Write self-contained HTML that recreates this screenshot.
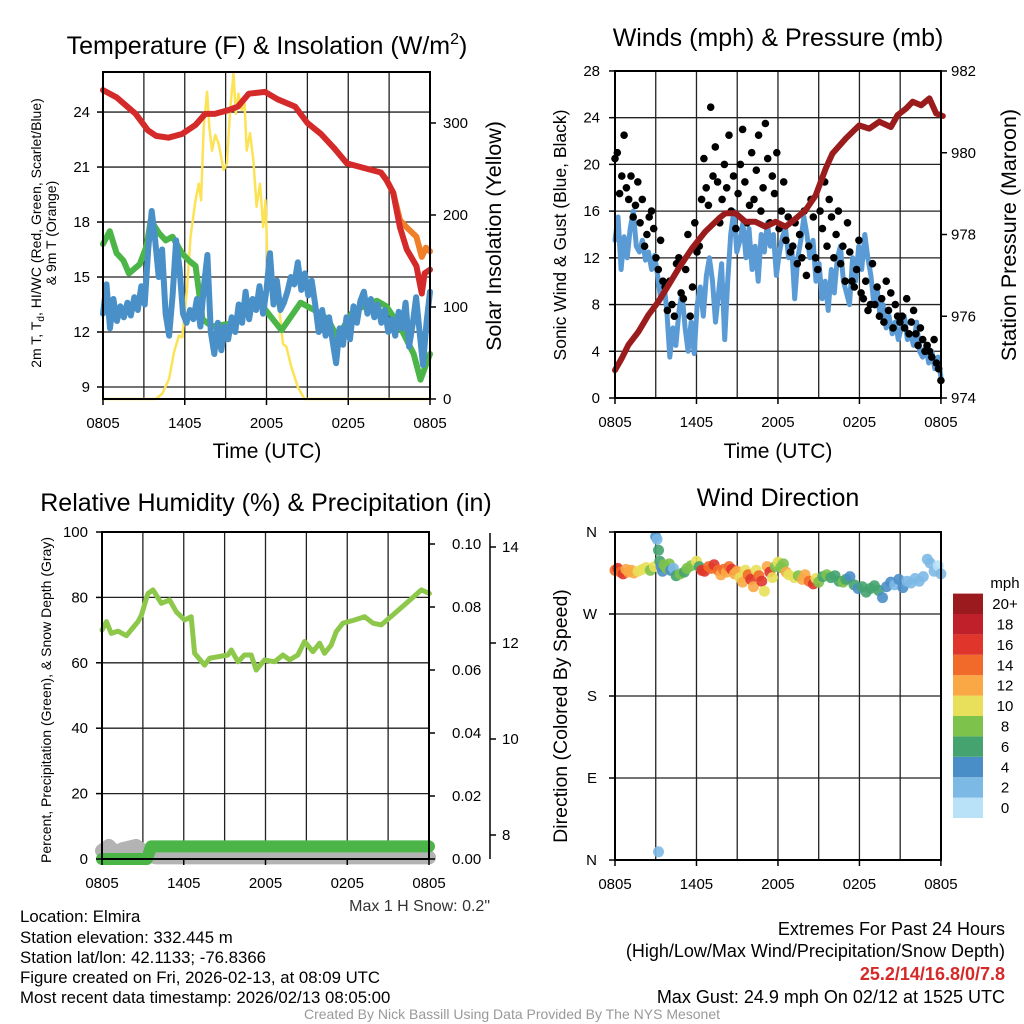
<!DOCTYPE html>
<html><head><meta charset="utf-8"><style>
html,body{margin:0;padding:0;background:#fff;}
svg{display:block;font-family:"Liberation Sans",Arial,sans-serif;}
</style></head><body>
<svg id="c" width="1024" height="1024" viewBox="0 0 1024 1024" xmlns="http://www.w3.org/2000/svg">
<rect width="1024" height="1024" fill="#fff"/>
<g id="bg"></g>
<g id="marks"></g>
<g id="fg"></g>
<!-- titles -->
<text x="267" y="54" font-size="25" text-anchor="middle">Temperature (F) &amp; Insolation (W/m<tspan font-size="16" dy="-10">2</tspan><tspan dy="10">)</tspan></text>
<text x="778" y="46" font-size="25" text-anchor="middle">Winds (mph) &amp; Pressure (mb)</text>
<text x="266" y="511" font-size="25" text-anchor="middle">Relative Humidity (%) &amp; Precipitation (in)</text>
<text x="778" y="506" font-size="25" text-anchor="middle">Wind Direction</text>
<text x="267" y="458" font-size="21" text-anchor="middle">Time (UTC)</text>
<text x="778" y="458" font-size="21" text-anchor="middle">Time (UTC)</text>
<text transform="translate(41,233) rotate(-90)" font-size="14" text-anchor="middle">2m T, T<tspan font-size="10" dy="3">d</tspan><tspan dy="-3">, HI/WC (Red, Green, Scarlet/Blue)</tspan></text>
<text transform="translate(56,233) rotate(-90)" font-size="14" text-anchor="middle">&amp; 9m T (Orange)</text>
<text transform="translate(501,236) rotate(-90)" font-size="21.5" text-anchor="middle">Solar Insolation (Yellow)</text>
<text transform="translate(566,235) rotate(-90)" font-size="17.5" text-anchor="middle">Sonic Wind &amp; Gust (Blue, Black)</text>
<text transform="translate(1016,235) rotate(-90)" font-size="21.5" text-anchor="middle">Station Pressure (Maroon)</text>
<text transform="translate(51,700) rotate(-90)" font-size="14" text-anchor="middle">Percent, Precipitation (Green), &amp; Snow Depth (Gray)</text>
<text transform="translate(567,716) rotate(-90)" font-size="19.5" text-anchor="middle">Direction (Colored By Speed)</text>
<text x="490" y="911" font-size="16" text-anchor="end" fill="#333">Max 1 H Snow: 0.2"</text>
<g font-size="16.8">
<text x="20" y="922">Location: Elmira</text>
<text x="20" y="943">Station elevation: 332.445 m</text>
<text x="20" y="963">Station lat/lon: 42.1133; -76.8366</text>
<text x="20" y="983">Figure created on Fri, 2026-02-13, at 08:09 UTC</text>
<text x="20" y="1003">Most recent data timestamp: 2026/02/13 08:05:00</text>
</g>
<g font-size="18" text-anchor="end">
<text x="1005" y="935">Extremes For Past 24 Hours</text>
<text x="1005" y="957">(High/Low/Max Wind/Precipitation/Snow Depth)</text>
<text x="1005" y="980" fill="#d42a2a" font-weight="bold">25.2/14/16.8/0/7.8</text>
<text x="1005" y="1003">Max Gust: 24.9 mph On 02/12 at 1525 UTC</text>
</g>
<text x="512" y="1019" font-size="14" fill="#999" text-anchor="middle">Created By Nick Bassill Using Data Provided By The NYS Mesonet</text>
</svg>
<script>
// ---------- DATA ----------
const xTickLabels = ["0805","1405","2005","0205","0805"];
const xTickHours = [0,6,12,18,24];
const tempTicks = [9,12,15,18,21,24];
const solarTicks = [0,100,200,300];
const windTicks = [0,4,8,12,16,20,24,28];
const presTicks = [974,976,978,980,982];
const rhTicks = [0,20,40,60,80,100];
const precipTicks = [0,0.02,0.04,0.06,0.08,0.10];
const outerTicks = [8,10,12,14];
const dirLabels = ["N","E","S","W","N"];
const dirTicks = [0,90,180,270,360];
const speedBins = ["0","2","4","6","8","10","12","14","16","18","20+"];

const tempHours = [0,1,2.4,3.3,3.9,4.8,5.8,6.8,7.5,8.2,9.2,9.9,10.7,11.9,12.8,14.1,15,16,17,17.9,19.4,20.4,20.8,21.3,21.8,22.3,23,23.4,23.6,24];
const tempValues = [25.2,24.8,23.9,23.0,22.7,22.6,22.8,23.3,23.9,23.9,24.1,24.3,25.0,25.1,24.7,24.3,23.4,22.8,22.0,21.2,20.9,20.7,20.3,19.6,17.7,16.5,15.6,14.1,15.2,15.4];
const temp9Hours = [20.4,20.8,21.3,21.8,22.3,23,23.4,23.7,24];
const temp9Values = [20.7,20.3,19.6,18.1,17.7,17.2,16.1,16.6,16.4];
const dewHours = [0,0.5,1,1.5,1.9,2.7,3.2,3.5,4.1,4.6,5.1,5.8,6.3,6.8,7.3,8,9.7,11.4,13.1,14.5,15.5,16.5,17.2,18.4,19.2,20.1,20.8,21.8,22.8,23.3,24];
const dewValues = [16.8,17.5,16.3,15.9,15.2,15.7,16.7,18.1,17.4,17.0,17.2,16.3,15.9,15.6,12.7,12.3,12.5,13.7,12.1,13.6,13.2,12.7,11.7,13.2,13.4,13.7,13.4,12.3,10.8,9.4,10.8];
const chillValues = [13.0,14.6,12.2,13.8,12.6,13.4,12.8,13.6,12.9,13.9,13.2,14.5,13.5,16.5,18.6,17.0,15.0,16.5,13.0,11.8,14.0,17.0,15.5,13.0,12.5,13.2,12.7,13.8,12.3,14.5,16.2,12.0,10.8,12.5,11.0,12.3,11.6,12.8,12.0,13.5,12.5,14.2,12.7,13.8,13.2,14.5,13.0,14.3,16.3,13.5,14.8,13.2,13.6,14.2,15.0,14.6,15.8,14.3,15.2,14.0,14.8,13.5,12.0,13.2,11.8,12.8,11.5,10.3,12.2,11.3,12.8,11.6,13.4,12.5,13.7,14.2,13.0,13.8,12.8,13.5,12.5,13.2,12.0,12.7,11.8,13.1,12.2,13.6,11.2,12.4,13.9,12.0,10.2,12.5,14.2];
const solarHours = [0,3.88,4.36,4.85,5.21,5.58,5.82,6.18,6.42,6.79,7.03,7.2,7.39,7.64,7.8,8.0,8.24,8.48,8.85,9.09,9.33,9.58,9.75,9.94,10.18,10.38,10.55,10.79,11.03,11.27,11.52,11.76,11.93,12.12,12.36,12.61,12.97,13.21,13.45,13.82,14.3,14.79,24];
const solarValues = [0,0,6,22,51,69,67,122,176,216,234,216,296,334,296,270,287,278,249,256,314,354,310,332,314,325,270,289,260,209,234,187,216,133,158,115,93,60,57,35,13,0,0];
const presHours = [0,0.49,0.99,1.72,2.46,3.2,3.94,4.68,5.67,6.65,7.64,8.13,8.87,9.61,10.34,11.08,11.82,12.56,13.3,14.04,14.78,15.52,16.01,17.0,17.98,18.72,19.46,20.32,20.81,21.43,21.92,22.54,23.15,23.65,24.14];
const presValues = [974.68,974.97,975.30,975.62,976.03,976.36,976.76,977.17,977.66,978.07,978.39,978.52,978.52,978.31,978.31,978.19,978.31,978.19,978.39,978.6,978.96,979.62,979.98,980.35,980.67,980.59,980.76,980.63,980.92,981.08,981.25,981.16,981.33,980.96,980.9];
const windValues = [13.5,15.5,11,13.8,12,14.5,16,13,12.5,13.5,11.8,12.5,11.0,12.2,10.5,8.5,10,7.5,3.5,6,4.5,7.5,9,6,4,6.5,3.8,8,9.5,7,10.5,12,10,6.5,9,11.5,5,10,14,16,12.5,13.5,15,12,14.5,11,13,10,14,12.5,15,13,14,10.5,12.5,13.8,14.5,12,13,8.5,12,13.5,15.5,14,12,13.5,10,11.5,8.5,10,7.5,11,9,12,13,10,9,8,12,10,13,11,14,12,10.5,8,9.5,7,8,6,7,5.5,6.5,5,6,7,5,5.5,4.5,6.5,4,3.5,4.5,3,4,2.5,3.5,1.8];
const gustValues = [20.5,21,17.5,19,22.5,18, 17,19,15.5,16.5,18.5,15, 17,13,14,15.5,16,14.5, 12,11,13.5,10,9.5,7.5, 10,8,7,11.5,12,9, 8.5,11,14,7,9.5,15, 12.5,13,17,20.5,18,16.5, 24.9,19,21.5,18.5,15,17, 20,18,22.5,16,19,14.5, 17.5,20,23,18.5,15,16.5, 21,17,19.5,22.5,16,18, 23.5,20.5,15,19,17.5,21, 14.5,16,18.5,13.5,15.5,12.5, 13,15,11.5,14,12,16, 10.5,13,17,15.5,12,11, 16,14.5,18.5,13,17,15.5, 12,14,16,11.5,13,10, 15,12.5,10,9.5,11,13.5, 9,8.5,10,7.5,8,11.5, 8,9.5,7,8.5,6.5,10, 7.5,9,6,8,7,6.5, 7,6,8.5,5.5,6.5,7.5, 5.5,4.5,6,5,4,4.5, 4,3.5,5,3,2.5,1.5];
const rhHours = [0,0.32,0.68,1.17,1.79,2.64,2.89,3.37,3.74,4.35,4.96,5.45,6.06,6.55,6.8,7.53,7.9,9.24,9.49,9.98,10.46,10.95,11.32,11.93,12.67,13.28,13.77,14.37,14.87,15.48,15.97,16.33,16.82,17.19,17.68,18.54,19.27,19.89,20.5,21.48,22.46,23.44,24.03];
const rhValues = [70.0,72.6,69.0,69.7,68.3,72.6,74.6,81.2,82.3,78.2,79.2,75.6,73.1,74.1,62.9,59.3,61.4,62.4,63.9,60.3,62.4,62.4,57.8,60.9,60.3,62.4,60.9,62.4,66.5,63.4,66.0,62.9,65.4,69.5,72.1,73.1,74.1,72.1,71.6,75.1,78.7,82.3,81.2];
const precipHours = [0,3.3,3.6,24];
const precipValues = [0,0,0.004,0.004];
const snowHours = [0,0.5,1,1.5,2,2.5,3,3.5,4,6,10,14,18,22,24];
const snowValues = [2.5,4,2,3,3.5,4,2.5,1,0.5,0.5,0.5,0.5,0.5,0.5,0.5];
// wind direction: hour, degrees, speed
const dirHours = [0,0.2,0.4,0.6,0.8,1,1.2,1.4,1.7,2,2.3,2.6,2.9,3.0,3.1,3.2,3.3,3.4,3.5,3.6,3.8,4,4.1,4.3,4.5,4.8,5.1,5.3,5.6,6,6.2,6.4,6.6,6.9,7.1,7.3,7.6,7.8,8,8.2,8.4,8.6,8.8,9,9.2,9.4,9.6,9.8,10,10.2,10.4,10.6,10.8,11,11.2,11.4,11.6,11.8,12,12.2,12.4,12.6,12.8,13.2,13.5,13.8,14,14.3,14.6,14.8,15,15.3,15.6,15.9,16.2,16.5,16.8,17,17.3,17.6,17.9,18.2,18.5,18.8,19.1,19.4,19.7,20,20.3,20.6,20.9,21.2,21.5,21.8,22.1,22.4,22.7,23,23.2,23.5,23.8,24,3.2];
const dirValues = [318,320,316,314,319,316,318,315,317,319,321,318,322,355,352,340,328,322,317,324,320,325,318,320,312,314,316,320,323,328,322,318,317,322,320,324,318,313,319,316,322,319,314,317,310,305,318,313,308,300,318,312,306,295,322,316,310,322,327,321,325,316,313,310,312,308,313,306,303,309,305,311,313,310,312,306,305,308,311,302,298,300,294,298,301,296,288,300,305,302,308,299,306,304,309,306,311,330,326,317,323,314,9];
const dirSpeeds = [14,16,15,17,13,12,13,12,11,10,11,9,10,4,3,6,7,5,4,8,9,8,4,3,7,8,6,9,8,10,7,16,17,14,15,16,14,12,14,13,14,17,13,12,10,12,10,14,16,12,11,15,17,10,12,16,10,8,10,8,8,12,10,11,9,12,12,14,16,11,8,7,8,6,6,7,8,6,5,6,5,6,6,6,7,6,4,5,4,3,4,5,3,2,2,2,3,2,2,2,1,2,2];
const speedColors = ["#b9e1f7","#7db9e5","#4a8ec8","#45a36f","#7dc24b","#e8e05a","#f9a845","#f26a2a","#e0352b","#c0202a","#9a1a1e"];

// ---------- HELPERS ----------
const NS="http://www.w3.org/2000/svg";
const bg=document.getElementById('bg'), marks=document.getElementById('marks'), fg=document.getElementById('fg');
function mk(tag,attrs,parent){const e=document.createElementNS(NS,tag);for(const k in attrs)e.setAttribute(k,attrs[k]);parent.appendChild(e);return e;}
function txt(x,y,s,anchor,parent,size){const t=mk('text',{x:x,y:y,'font-size':size||15,'text-anchor':anchor},parent);t.textContent=s;return t;}
function polyline(xs,ys,xf,yf,color,w,name,op){
  const pts=xs.map((h,i)=>xf(h).toFixed(1)+','+yf(ys[i]).toFixed(1)).join(' ');
  const p=mk('polyline',{points:pts,fill:'none',stroke:color,'stroke-width':w,'stroke-linejoin':'round','stroke-linecap':'round','stroke-opacity':op||1},marks);
  
  
  return p;
}
function even(n){const a=[];for(let i=0;i<n;i++)a.push(i*24/(n-1));return a;}

// scales
const x1=h=>103+h*13.625, yT=t=>387-(t-9)*18.33, yS=s=>399-s*0.92;
const x2=h=>615+h*13.58, yW=w=>398-w*11.68, yP=p=>398-(p-974)*40.875;
const x3=h=>102+h*13.625, yR=r=>859-r*3.27, yPr=p=>859-p*3150;
const yD=d=>860-d*328/360;

function frame(L,T,R,B,name,vh,hh){
  const g=mk('g',{},bg);
  
  
  vh.forEach(x=>mk('line',{x1:x,y1:T,x2:x,y2:B,stroke:'#222','stroke-width':1.3},g));
  hh.forEach(y=>mk('line',{x1:L,y1:y,x2:R,y2:y,stroke:'#222','stroke-width':1.3},g));
  mk('rect',{x:L,y:T,width:R-L,height:B-T,fill:'none',stroke:'#000','stroke-width':2},fg);
}
const gridH=[3,6,9,12,15,18,21];
function xAxis(xf,B,name){
  const g=mk('g',{},fg);
  
  
  xTickHours.forEach((h,i)=>{mk('line',{x1:xf(h),y1:B,x2:xf(h),y2:B+6,stroke:'#000','stroke-width':1.5},g);txt(xf(h),B+29,xTickLabels[i],'middle',g);});
}
function yAxis(vals,yf,x,dir,fmt,name,labX){
  const g=mk('g',{},fg);
  
  
  vals.forEach(v=>{const y=yf(v);mk('line',{x1:x,y1:y,x2:x+dir*6,y2:y,stroke:'#000','stroke-width':1.5},g);txt(labX,y+5,fmt(v),dir<0?'end':'start',g);});
}

// ---------- PANEL 1 ----------
frame(103,72,430,399,'temp-grid',gridH.map(x1),tempTicks.map(yT));
polyline(solarHours,solarValues,x1,yS,'#fce356',2.5,'solar-line');
polyline(dewHours,dewValues,x1,yT,'#4bb548',6,'dewpoint-line');
polyline(even(chillValues.length),chillValues,x1,yT,'#4a90c8',6,'windchill-line');
polyline(temp9Hours,temp9Values,x1,yT,'#f07f2a',6,'temp-9m-line');
polyline(tempHours,tempValues,x1,yT,'#d42a2a',6,'temp-2m-line');
xAxis(x1,399,'temp-x-axis');
yAxis(tempTicks,yT,103,-1,v=>String(v),'temp-left-axis',90);
yAxis(solarTicks,yS,430,1,v=>String(v),'solar-right-axis',443);

// ---------- PANEL 2 ----------
frame(615,71,941,398,'winds-grid',gridH.map(x2),[4,8,12,16,20,24].map(yW));
polyline(even(windValues.length),windValues,x2,yW,'#5b9bd5',5,'wind-line');
const gx=even(gustValues.length);
gustValues.forEach((v,i)=>{
  const c=mk('circle',{cx:x2(gx[i]).toFixed(1),cy:yW(v).toFixed(1),r:3.8,fill:'#000'},marks);
  
  
});
polyline(presHours,presValues,x2,yP,'#9b1c1c',6,'pressure-line');
xAxis(x2,398,'winds-x-axis');
yAxis(windTicks,yW,615,-1,v=>String(v),'wind-left-axis',600);
yAxis(presTicks,yP,941,1,v=>String(v),'pressure-right-axis',951);

// ---------- PANEL 3 ----------
frame(102,532,429,859,'rh-grid',gridH.map(x3),[20,40,60,80].map(yR));
polyline(snowHours,snowValues,x3,yR,'#b3b3b3',14,'snow-depth-line');
polyline(precipHours,precipValues,x3,yPr,'#4bb548',12,'precip-line');
polyline(rhHours,rhValues,x3,yR,'#8dc84b',5,'rh-line');
xAxis(x3,859,'rh-x-axis');
yAxis(rhTicks,yR,102,-1,v=>String(v),'rh-left-axis',88);
yAxis(precipTicks,yPr,429,1,v=>v.toFixed(2),'precip-right-axis',452);
mk('line',{x1:490,y1:533,x2:490,y2:859,stroke:'#000','stroke-width':1.5},fg);
yAxis(outerTicks,v=>835-(v-8)*48,490,1,v=>String(v),'outer-right-axis',502);

// ---------- PANEL 4 ----------
frame(615,532,941,860,'direction-grid',gridH.map(x2),[90,180,270].map(yD));
dirValues.forEach((d,i)=>{
  const idx=Math.min(10,Math.floor(dirSpeeds[i]/2));
  const c=mk('circle',{cx:x2(dirHours[i]).toFixed(1),cy:yD(d).toFixed(1),r:5.5,fill:speedColors[idx],'fill-opacity':0.9},marks);
  
  
});
xAxis(x2,860,'direction-x-axis');
yAxis(dirTicks,yD,615,-1,(v)=>dirLabels[dirTicks.indexOf(v)],'direction-left-axis',597);

// colorbar
const cb=mk('g',{},fg);


txt(1005,588,'mph','middle',cb);
speedBins.forEach((lab,i)=>{
  const top=818-(i+1)*20.4;
  mk('rect',{x:953,y:top,width:30,height:20.4,fill:speedColors[i]},cb);
  txt(1005,top+15.5,lab,'middle',cb);
});
</script>
</body></html>
